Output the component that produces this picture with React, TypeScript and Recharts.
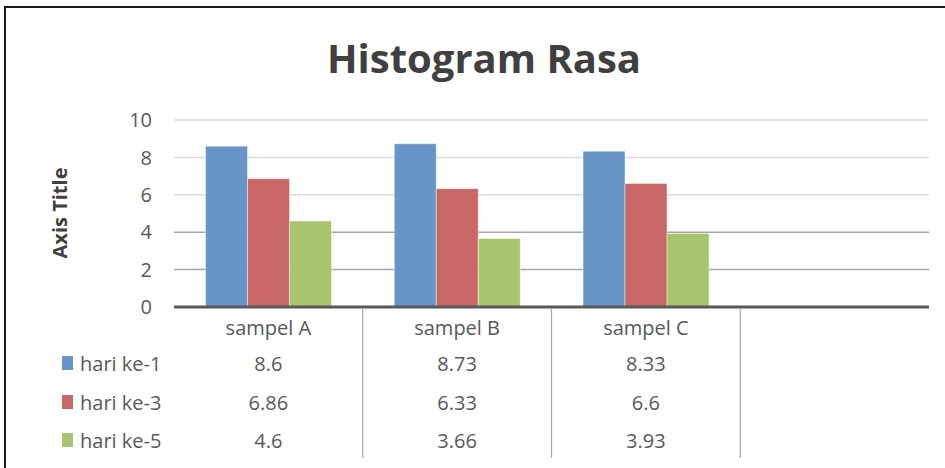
import { BarChart, Bar, XAxis, YAxis, CartesianGrid } from 'recharts';

const CATEGORIES = ['sampel A', 'sampel B', 'sampel C', ''];
const SERIES_NAMES = ['hari ke-1', 'hari ke-3', 'hari ke-5'];
const HARI_1 = [8.6, 8.73, 8.33];
const HARI_3 = [6.86, 6.33, 6.6];
const HARI_5 = [4.6, 3.66, 3.93];
const Y_TICKS = [0, 2, 4, 6, 8, 10];

const COLORS = ['#6895c8', '#c96766', '#a8c46e'];
const FONT = '"Open Sans", "Noto Sans", sans-serif';
const TEXT = '#595959';

const SERIES = [HARI_1, HARI_3, HARI_5];
const data = CATEGORIES.map((name, i) => ({
  name,
  h1: HARI_1[i],
  h3: HARI_3[i],
  h5: HARI_5[i],
}));

// row centres below the axis, relative to tick y
const ROW_DY = [56, 95, 133];

const TableTick = ({ x, y, payload }: any) => {
  const i = payload.index;
  const half = payload.offset || 0;
  return (
    <g>
      <text x={x} y={y + 20} textAnchor="middle" dominantBaseline="central"
        fontFamily={FONT} fontSize={20} fill={TEXT}>{payload.value}</text>
      {SERIES.map((s, k) => (
        s[i] !== undefined ? (
          <text key={k} x={x} y={y + ROW_DY[k]} textAnchor="middle" dominantBaseline="central"
            fontFamily={FONT} fontSize={20} fill={TEXT}>{s[i]}</text>
        ) : null
      ))}
      {i < CATEGORIES.length - 1 && (
        <line x1={x + half} x2={x + half} y1={y + 1} y2={y + 151} stroke="#a6a6a6" strokeWidth={1.2} />
      )}
      {i === 0 && SERIES_NAMES.map((n, k) => (
        <g key={n}>
          <rect x={x - half - 112} y={y + ROW_DY[k] - 7} width={11} height={14} fill={COLORS[k]} />
          <text x={x - half - 94} y={y + ROW_DY[k]} dominantBaseline="central"
            fontFamily={FONT} fontSize={20} fill={TEXT}>{n}</text>
        </g>
      ))}
    </g>
  );
};

export default function App() {
  return (
    <div style={{ position: 'absolute', left: 0, top: 0, width: 945, height: 468, overflow: 'hidden', background: '#fff' }}>
      <div style={{ position: 'absolute', left: 4, top: 6, width: 980, height: 500, border: '2.5px solid #1a1a1a', boxSizing: 'border-box' }} />
      <BarChart width={945} height={468} data={data}
        margin={{ top: 120, right: 16, bottom: 10, left: 114 }}
        barCategoryGap="16.7%" barGap={0}>
        <CartesianGrid vertical={false} horizontalValues={[6, 8, 10]} stroke="#dcdcdc" strokeWidth={1.5} />
        <CartesianGrid vertical={false} horizontalValues={[2, 4]} stroke="#a6a6a6" strokeWidth={1.5} />
        <XAxis dataKey="name" height={151} tickSize={0} tickMargin={0} interval={0}
          axisLine={{ stroke: '#595959', strokeWidth: 3 }} tickLine={false} tick={<TableTick />} />
        <YAxis width={60} domain={[0, 10]} ticks={Y_TICKS} tickSize={0} tickMargin={22}
          axisLine={false} tickLine={false}
          tick={{ fontFamily: FONT, fontSize: 20, fill: TEXT }} />
        <Bar dataKey="h1" name={SERIES_NAMES[0]} fill={COLORS[0]} stroke="rgba(255,255,255,0.45)" strokeWidth={1} isAnimationActive={false} />
        <Bar dataKey="h3" name={SERIES_NAMES[1]} fill={COLORS[1]} stroke="rgba(255,255,255,0.45)" strokeWidth={1} isAnimationActive={false} />
        <Bar dataKey="h5" name={SERIES_NAMES[2]} fill={COLORS[2]} stroke="rgba(255,255,255,0.45)" strokeWidth={1} isAnimationActive={false} />
      </BarChart>
      <svg width={945} height={468} style={{ position: 'absolute', left: 0, top: 0, pointerEvents: 'none' }}>
        <text x={484} y={73} textAnchor="middle" fontFamily={FONT} fontWeight={700} fontSize={40} fill="#404040">Histogram Rasa</text>
        <text transform="translate(67,213) rotate(-90)" textAnchor="middle" fontFamily={FONT} fontWeight={700} fontSize={20} fill="#404040">Axis Title</text>
      </svg>
    </div>
  );
}
